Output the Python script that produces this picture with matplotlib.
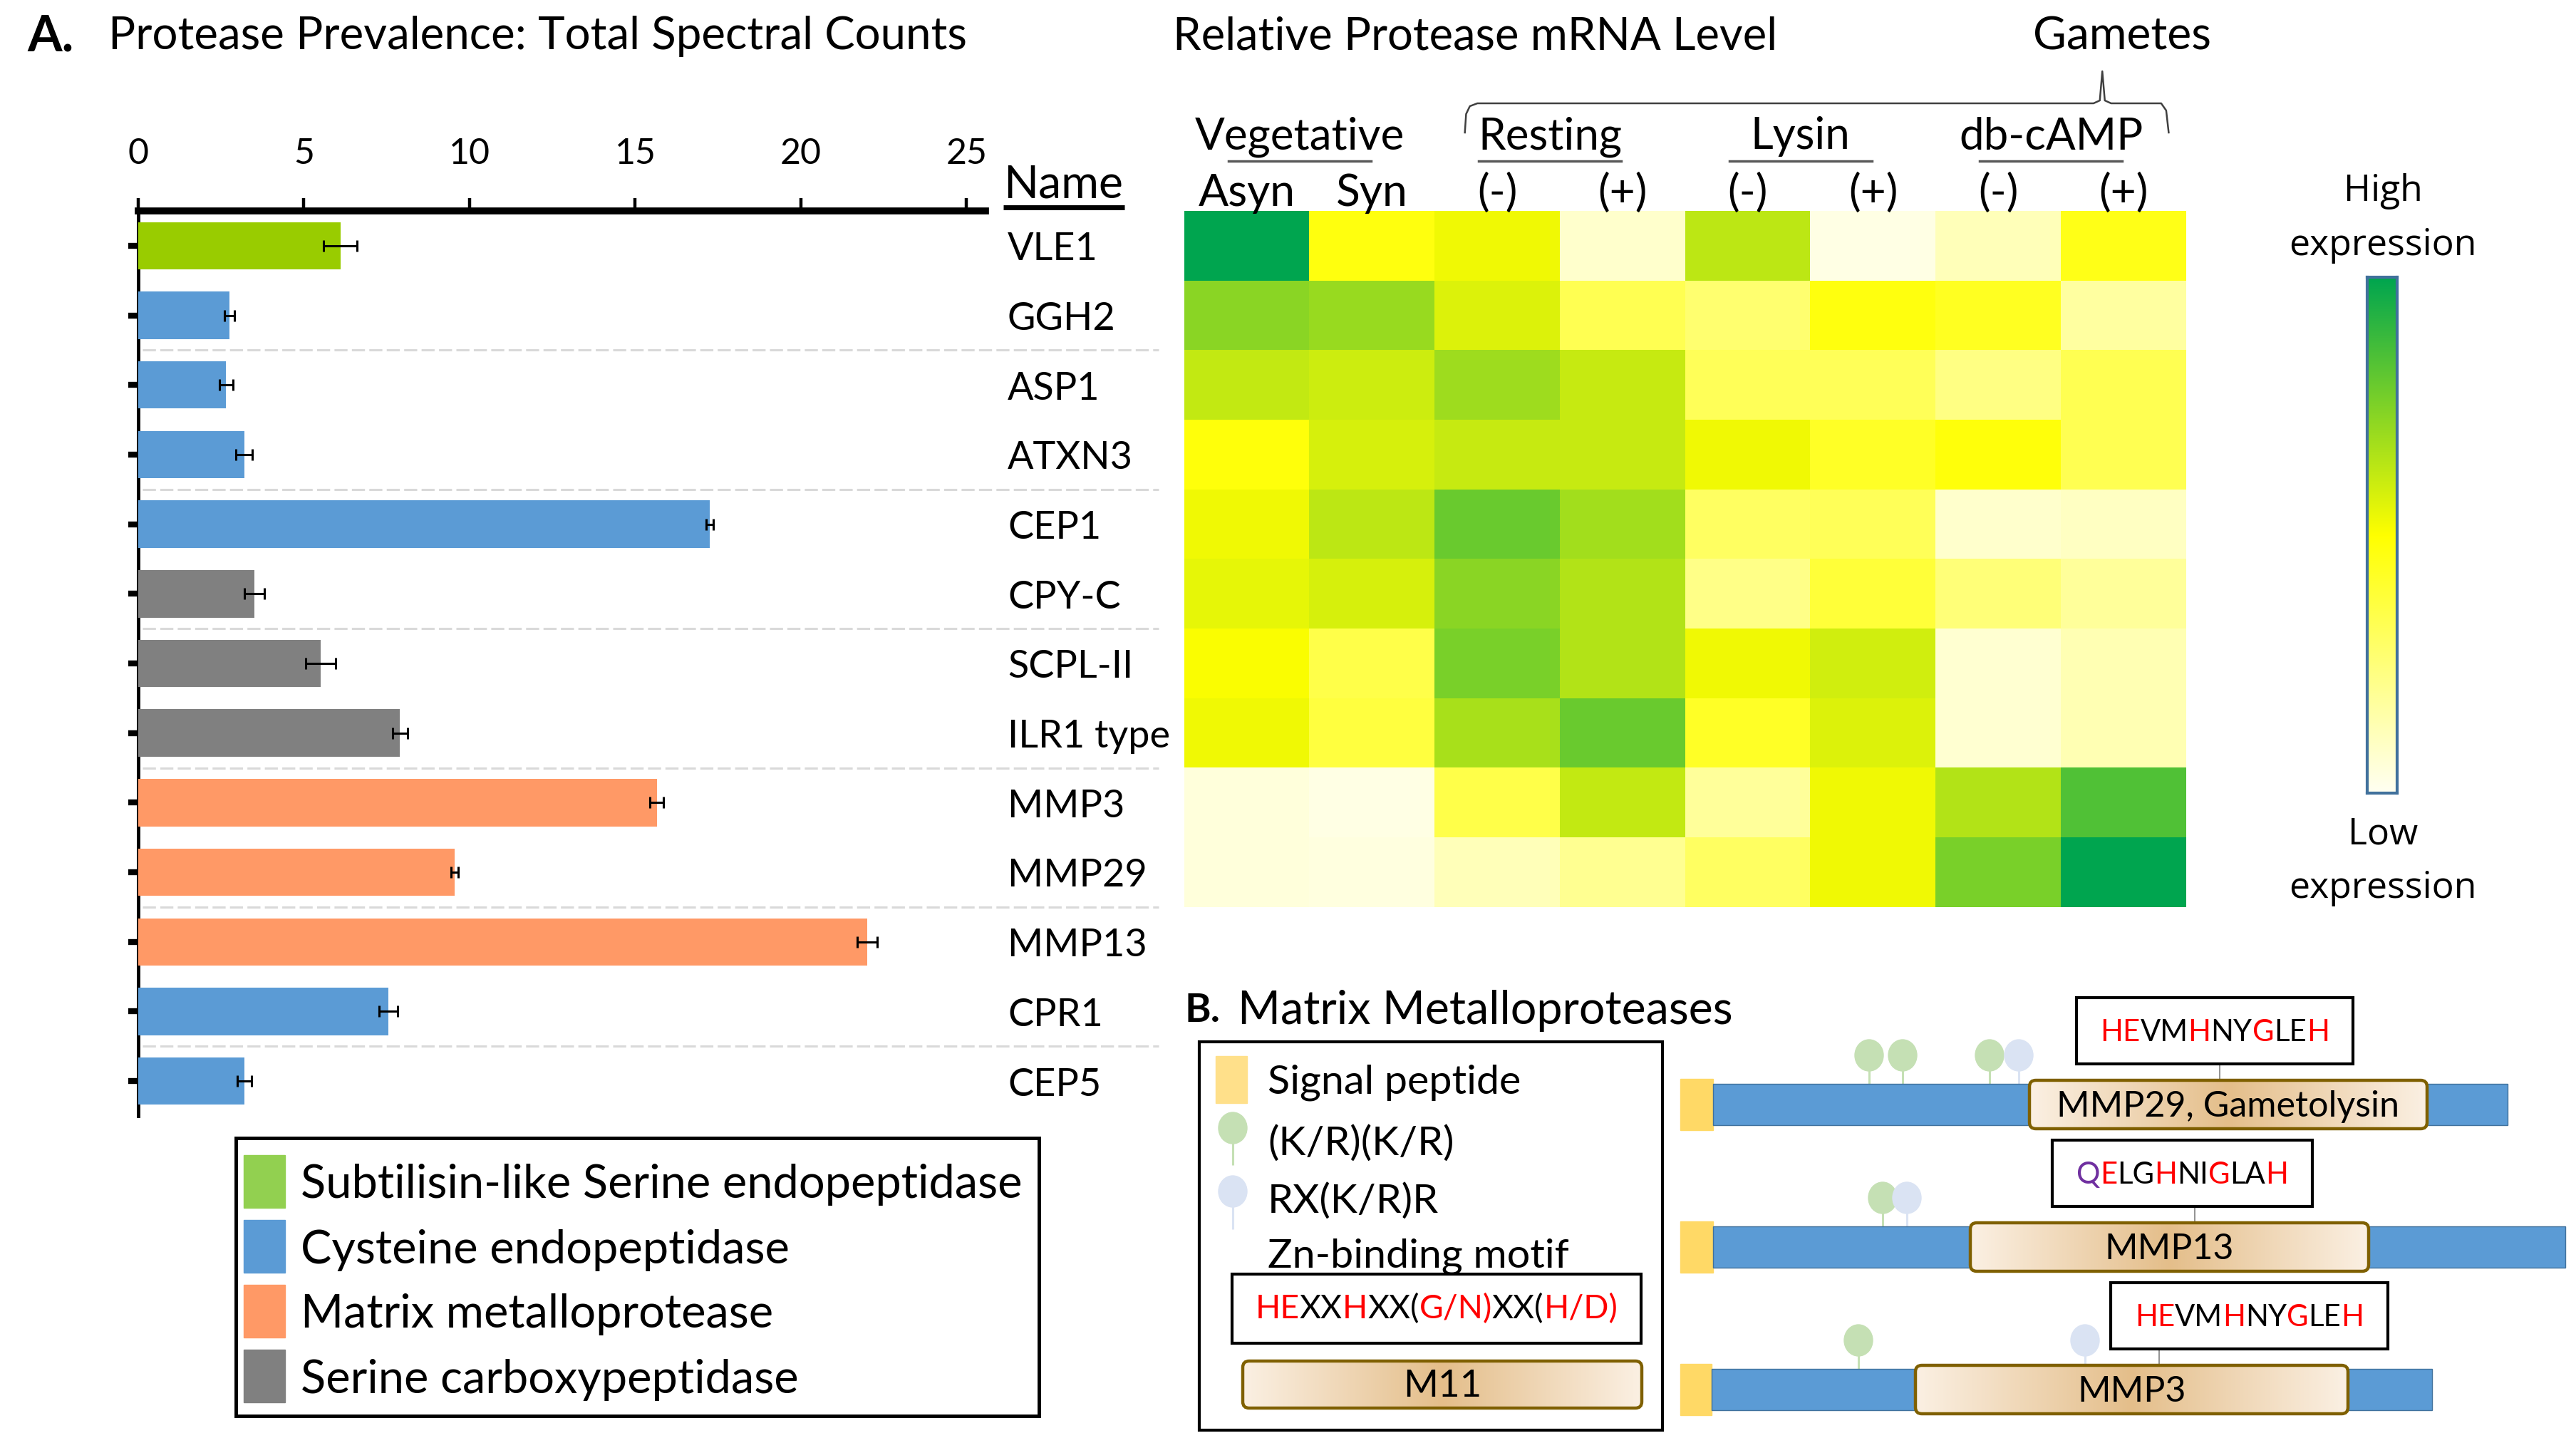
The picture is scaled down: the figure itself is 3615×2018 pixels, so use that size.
import numpy as np
import matplotlib
matplotlib.use("Agg")
import matplotlib.pyplot as plt
import matplotlib.transforms as mtransforms
from matplotlib.colors import LinearSegmentedColormap
from matplotlib.patches import Rectangle, FancyBboxPatch, Ellipse
from matplotlib.offsetbox import TextArea, HPacker, AnnotationBbox

plt.rcParams["font.family"] = ["Lato", "DejaVu Sans"]

# === Panel A: spectral counts ===
names = ["VLE1", "GGH2", "ASP1", "ATXN3", "CEP1", "CPY-C", "SCPL-II", "ILR1 type",
         "MMP3", "MMP29", "MMP13", "CPR1", "CEP5"]
counts = [6.1, 2.75, 2.65, 3.2, 17.25, 3.5, 5.5, 7.9, 15.65, 9.55, 22.0, 7.55, 3.2]
count_err = [0.5, 0.15, 0.2, 0.25, 0.1, 0.3, 0.45, 0.22, 0.2, 0.1, 0.3, 0.28, 0.22]
family = ["sub", "cys", "cys", "cys", "cys", "ser", "ser", "ser",
          "mmp", "mmp", "mmp", "cys", "cys"]
legend_families = ["sub", "cys", "mmp", "ser"]
family_label = {"sub": "Subtilisin-like Serine endopeptidase",
                "cys": "Cysteine endopeptidase",
                "mmp": "Matrix metalloprotease",
                "ser": "Serine carboxypeptidase"}
bar_color = {"sub": "#99CC00", "cys": "#5B9BD5", "mmp": "#FF9966", "ser": "#808080"}
legend_color = {"sub": "#92D050", "cys": "#5B9BD5", "mmp": "#FF9966", "ser": "#808080"}

# === Heatmap: relative mRNA level (0 = low, 1 = high) ===
conditions = ["Asyn", "Syn", "(-)", "(+)", "(-)", "(+)", "(-)", "(+)"]
groups = ["Vegetative", "Resting", "Lysin", "db-cAMP"]
expr = np.array([
    [1.00, 0.47, 0.53, 0.08, 0.63, 0.03, 0.12, 0.45],
    [0.73, 0.70, 0.57, 0.33, 0.27, 0.47, 0.43, 0.17],
    [0.62, 0.60, 0.69, 0.61, 0.32, 0.32, 0.23, 0.33],
    [0.48, 0.58, 0.61, 0.61, 0.53, 0.42, 0.48, 0.33],
    [0.53, 0.63, 0.79, 0.68, 0.30, 0.32, 0.08, 0.10],
    [0.55, 0.58, 0.73, 0.65, 0.22, 0.38, 0.25, 0.18],
    [0.51, 0.35, 0.76, 0.65, 0.53, 0.59, 0.07, 0.13],
    [0.53, 0.37, 0.67, 0.79, 0.42, 0.57, 0.07, 0.13],
    [0.05, 0.03, 0.35, 0.62, 0.18, 0.53, 0.65, 0.84],
    [0.05, 0.04, 0.12, 0.20, 0.30, 0.53, 0.76, 1.00],
])

# === Panel B: MMP domain schematics (positions in schematic units) ===
proteins = ["MMP29, Gametolysin", "MMP13", "MMP3"]
protein_end = [1161, 1242, 1055]
signal_end = [46, 46, 44]
domain_start = [490, 407, 330]
domain_end = [1048, 966, 937]
motif_link = [757, 722, 672]
motif_left = [556, 522, 604]
motif_right = [944, 887, 993]
kr_sites = [[265, 312, 434], [284], [250]]
rx_sites = [[475], [318], [568]]
motif_seqs = [
    [("HE", "r"), ("VM", "k"), ("H", "r"), ("NY", "k"), ("G", "r"), ("LE", "k"), ("H", "r")],
    [("Q", "p"), ("E", "r"), ("LG", "k"), ("H", "r"), ("NI", "k"), ("G", "r"), ("LA", "k"), ("H", "r")],
    [("HE", "r"), ("VM", "k"), ("H", "r"), ("NY", "k"), ("G", "r"), ("LE", "k"), ("H", "r")],
]
zn_motif = [("HE", "r"), ("XX", "k"), ("H", "r"), ("XX(", "k"), ("G/N)", "r"), ("XX(", "k"), ("H/D)", "r")]
seq_color = {"r": "#FF0000", "k": "black", "p": "#7030A0"}

expr_cmap = LinearSegmentedColormap.from_list("expr", ["#FFFFF2", "#FFFF00", "#00A54F"])
tan_cmap = LinearSegmentedColormap.from_list("tan", ["#FBF0E3", "#E4BE8A", "#FBF0E3"])

W, H = 3616, 2018
fig = plt.figure(figsize=(W / 100, H / 100), dpi=100)
renderer = fig.canvas.get_renderer()


def fx(x):
    return x / W


def fy(y):
    return 1 - y / H


def fit_size(s, width, **kw):
    t = fig.text(0, 0, s, fontsize=40, **kw)
    w = t.get_window_extent(renderer=renderer).width
    t.remove()
    return 40 * width / w


def domain_box(ax, x0, x1, yc, h, label, fs):
    box = FancyBboxPatch((x0, yc - h / 2), x1 - x0, h, boxstyle="round,pad=0,rounding_size=9",
                         facecolor="none", edgecolor="#7F6000", lw=3.2, zorder=5)
    ax.add_patch(box)
    im = ax.imshow(np.linspace(0, 1, 256).reshape(1, -1), extent=(x0, x1, yc + h / 2, yc - h / 2),
                   cmap=tan_cmap, aspect="auto", zorder=4)
    im.set_clip_path(box)
    ax.text((x0 + x1) / 2, yc + 3, label, ha="center", va="center", fontsize=fs, zorder=6)


def colored_seq(ax, x, y, parts, fs):
    areas = [TextArea(s, textprops=dict(color=seq_color[c], fontsize=fs)) for s, c in parts]
    pack = HPacker(children=areas, align="baseline", pad=0, sep=0)
    ab = AnnotationBbox(pack, (x, y), frameon=False, box_alignment=(0.5, 0.5), pad=0, zorder=7)
    ax.add_artist(ab)


def lollipop(ax, x, base, color, head_y, stem_lw=2.2):
    ax.plot([x, x], [base, head_y], color=color, lw=stem_lw, zorder=2, solid_capstyle="butt")
    ax.add_patch(Ellipse((x, head_y), 40, 44, color=color, zorder=3))


# overlay in pixel coords for titles and legends
ov = fig.add_axes([0, 0, 1, 1])
ov.set_facecolor("none")

# === Panel A ===
fs_title = fit_size("Protease Prevalence: Total Spectral Counts", 1206)
ov.text(38, 51, "A.", fontsize=fit_size("A.", 65, fontweight="bold"), fontweight="bold", va="center")
ov.text(152, 51, "Protease Prevalence: Total Spectral Counts", fontsize=fs_title, va="center")

ax = fig.add_axes([fx(194), fy(1566), fx(1383) - fx(194), fy(296) - fy(1566)])
ax.patch.set_alpha(0)
y = np.arange(len(names))
ax.barh(y, counts, xerr=count_err, height=0.68, color=[bar_color[f] for f in family],
        error_kw=dict(ecolor="black", elinewidth=2.2, capsize=6, capthick=2.2), zorder=3)
ax.set_xlim(0, 25.57)
ax.set_ylim(len(names) - 0.5, -0.5)
ax.xaxis.tick_top()
ax.set_xticks(np.arange(0, 26, 5))
ax.tick_params(axis="x", direction="out", length=13, width=3.2,
               labelsize=fit_size("10", 58), pad=28)
ax.set_yticks(y)
ax.set_yticklabels([])
ax.tick_params(axis="y", direction="inout", length=20, width=6)
ax.spines["right"].set_visible(False)
ax.spines["bottom"].set_visible(False)
ax.spines["top"].set_linewidth(7)
ax.spines["left"].set_linewidth(3.5)
ax.hlines(np.arange(1.5, len(names) - 1, 2), 0.12, 30.8, colors="#D9D9D9", lw=2.2,
          linestyles=(0, (6, 2)), clip_on=False, zorder=1)

name_tr = mtransforms.blended_transform_factory(ov.transData, ax.transData)
fs_name = fit_size("ILR1 type", 228)
for i, n in enumerate(names):
    ax.text(1414, i + 0.05, n, transform=name_tr, fontsize=fs_name, va="center", clip_on=False)
ov.text(1408, 260, "Name", fontsize=fit_size("Name", 168), va="center")
ov.plot([1408, 1578], [291, 291], color="black", lw=5, solid_capstyle="butt")

# family legend
ov.add_patch(Rectangle((331, 1597), 1127, 390, fill=False, edgecolor="black", lw=3.5))
fs_leg = fit_size(family_label["sub"], 1010)
for i, f in enumerate(legend_families):
    yc = 1658 + 91 * i
    ov.add_patch(Rectangle((342, yc - 37), 58, 74, color=legend_color[f]))
    ov.text(422, yc + 5, family_label[f], fontsize=fs_leg, va="center")

# === Heatmap ===
hx = fig.add_axes([fx(1662), fy(1273), fx(3068) - fx(1662), fy(296) - fy(1273)])
hx.imshow(expr, cmap=expr_cmap, vmin=0, vmax=1, aspect="auto", interpolation="nearest")
hx.axis("off")

hdr = mtransforms.blended_transform_factory(hx.transData, ov.transData)
ov.text(1646, 51, "Relative Protease mRNA Level",
        fontsize=fit_size("Relative Protease mRNA Level", 848), va="center")
ov.text(2978, 51, "Gametes", fontsize=fit_size("Gametes", 250), ha="center", va="center")

fs_col = fit_size("Asyn", 136)
for i, c in enumerate(conditions):
    hx.text(i, 271, c, transform=hdr, fontsize=fs_col, ha="center", va="center", clip_on=False)
fs_grp = fit_size("Vegetative", 294)
for g, lab in enumerate(groups):
    xc = 2 * g + 0.5 - 0.08
    hx.text(xc, 192, lab, transform=hdr, fontsize=fs_grp, ha="center", va="center", clip_on=False)
    hx.plot([xc - 0.57, xc + 0.57], [226, 226], transform=hdr, color="#595959", lw=2.5,
            clip_on=False)

# brace over the gamete conditions
brace_x = [1.74, 1.75, 1.78, 1.84, 6.76, 6.81, 6.83, 6.85, 6.90, 7.30, 7.34, 7.36]
brace_y = [186, 160, 149, 145, 145, 141, 100, 141, 145, 145, 155, 186]
hx.plot(brace_x, brace_y, transform=hdr, color="#404040", lw=1.8, clip_on=False)

# colour scale
cx = fig.add_axes([fx(3322), fy(1113), fx(3364) - fx(3322), fy(389) - fy(1113)])
cx.imshow(np.linspace(0, 1, 256).reshape(-1, 1), cmap=expr_cmap, origin="lower", aspect="auto")
cx.set_xticks([])
cx.set_yticks([])
for sp in cx.spines.values():
    sp.set_edgecolor("#41719C")
    sp.set_linewidth(3)
fs_hl = fit_size("expression", 263, family="Open Sans")
ov.text(3344, 269, "High", fontsize=fs_hl, family="Open Sans", ha="center", va="center")
ov.text(3344, 344, "expression", fontsize=fs_hl, family="Open Sans", ha="center", va="center")
ov.text(3344, 1171, "Low", fontsize=fs_hl, family="Open Sans", ha="center", va="center")
ov.text(3344, 1246, "expression", fontsize=fs_hl, family="Open Sans", ha="center", va="center")

# === Panel B ===
ov.text(1663, 1418, "B.", fontsize=fit_size("B.", 50, fontweight="bold"), fontweight="bold",
        va="center")
ov.text(1737, 1418, "Matrix Metalloproteases",
        fontsize=fit_size("Matrix Metalloproteases", 696), va="center")

# legend box
ov.add_patch(Rectangle((1683, 1462), 650, 545, fill=False, edgecolor="black", lw=3))
fs_lb = fit_size("Signal peptide", 355)
ov.add_patch(Rectangle((1706, 1482), 44, 66, color="#FFE08A"))
ov.text(1779, 1519, "Signal peptide", fontsize=fs_lb, va="center")
lollipop(ov, 1730, 1635, "#C5E0B4", 1583)
ov.text(1779, 1605, "(K/R)(K/R)", fontsize=fs_lb, va="center")
lollipop(ov, 1730, 1725, "#DAE3F3", 1672)
ov.text(1779, 1686, "RX(K/R)R", fontsize=fs_lb, va="center")
ov.text(1779, 1763, "Zn-binding motif", fontsize=fs_lb, va="center")
ov.add_patch(Rectangle((1729, 1788), 574, 97, facecolor="white", edgecolor="black", lw=3, zorder=3))
colored_seq(ov, 2016, 1837, zn_motif, fit_size("HEXXHXX(G/N)XX(H/D)", 508))
domain_box(ov, 1744, 2304, 1943, 66, "M11", fit_size("M11", 110))

ov.set_xlim(0, W)
ov.set_ylim(H, 0)
ov.axis("off")

# protein schematics
bx = fig.add_axes([fx(2340), fy(2018), fx(3616) - fx(2340), fy(1380) - fy(2018)])
bar_h, sig_h, dom_h = 58, 72, 68
fs_dom = fit_size("MMP29, Gametolysin", 480)
fs_mot = fit_size("HEVMHNYGLEH", 321)
for i, p in enumerate(proteins):
    yc = 200 * i
    bx.add_patch(Rectangle((0, yc - sig_h / 2), signal_end[i], sig_h, color="#FFD966", zorder=3))
    bx.add_patch(Rectangle((signal_end[i], yc - bar_h / 2), protein_end[i] - signal_end[i], bar_h,
                           facecolor="#5B9BD5", edgecolor="#41719C", lw=1, zorder=3))
    domain_box(bx, domain_start[i], domain_end[i], yc, dom_h, p, fs_dom)
    bx.add_patch(Rectangle((motif_left[i], yc - 150), motif_right[i] - motif_left[i], 93,
                           facecolor="white", edgecolor="black", lw=3, zorder=3))
    bx.plot([motif_link[i], motif_link[i]], [yc - 57, yc - dom_h / 2], color="#7F7F7F", lw=1.2)
    colored_seq(bx, (motif_left[i] + motif_right[i]) / 2, yc - 101, motif_seqs[i], fs_mot)
    for s in kr_sites[i]:
        lollipop(bx, s, yc - bar_h / 2, "#C5E0B4", yc - 69)
    for s in rx_sites[i]:
        lollipop(bx, s, yc - bar_h / 2, "#DAE3F3", yc - 69)
bx.set_xlim(-18, 1258)
bx.set_ylim(468, -170)
bx.axis("off")

fig.savefig("out.png", dpi=100, facecolor="white")
